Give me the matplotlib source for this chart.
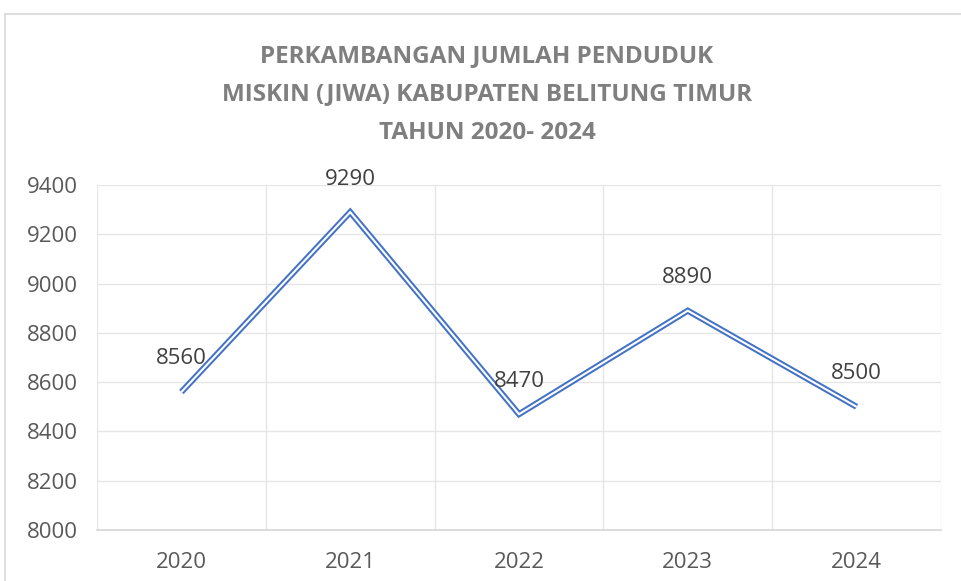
"""
Perkembangan jumlah penduduk miskin Kabupaten Belitung Timur, 2020-2024
"""

import matplotlib.pyplot as plt
from matplotlib.patches import Rectangle

YEARS = ["2020", "2021", "2022", "2023", "2024"]
JIWA = [8560, 9290, 8470, 8890, 8500]
TITLE_LINES = [
    "PERKAMBANGAN JUMLAH PENDUDUK",
    "MISKIN (JIWA) KABUPATEN BELITUNG TIMUR",
    "TAHUN 2020- 2024",
]

BLUE = "#4472c4"
GRID = "#e6e6e6"
TEXT = "#595959"

plt.rcParams['font.family'] = ['Open Sans', 'DejaVu Sans']

fig = plt.figure(figsize=(9.61, 5.81), dpi=100)
fig.patches.append(Rectangle((5 / 961, -0.1), 1.2, 1 - 14 / 581 + 0.1,
                             transform=fig.transFigure, fill=False,
                             edgecolor="#d9d9d9", linewidth=1.2))

ax = fig.add_axes([97 / 961, 1 - 530 / 581, (941 - 97) / 961, (530 - 185) / 581])
x = list(range(len(YEARS)))

# double (compound) line: thick blue with a white core
ax.plot(x, JIWA, color=BLUE, linewidth=4.4, solid_joinstyle='miter',
        solid_capstyle='butt', zorder=3)
ax.plot(x, JIWA, color="white", linewidth=1.5, solid_joinstyle='miter',
        solid_capstyle='butt', zorder=4)

for xi, v in zip(x, JIWA):
    ax.annotate(f"{v}", (xi, v), xytext=(0, 33), textcoords='offset pixels',
                ha='center', va='center', fontsize=16, color="#404040", zorder=5)

ax.set_xlim(-0.5, len(YEARS) - 0.5)
ax.set_ylim(8000, 9400)
ax.set_yticks(range(8000, 9401, 200))
ax.set_xticks(x)
ax.set_xticklabels(YEARS)
ax.set_xticks([i - 0.5 for i in range(len(YEARS) + 1)], minor=True)

ax.grid(axis='y', which='major', color=GRID, linewidth=1)
ax.grid(axis='x', which='minor', color=GRID, linewidth=1)
ax.set_axisbelow(True)
for s in ["top", "right", "left"]:
    ax.spines[s].set_visible(False)
ax.spines["bottom"].set_color("#d9d9d9")
ax.spines["bottom"].set_linewidth(1.3)
ax.tick_params(which='both', length=0)
ax.tick_params(axis='y', labelsize=16, labelcolor=TEXT, pad=14)
ax.tick_params(axis='x', labelsize=16, labelcolor=TEXT, pad=16)

for i, line in enumerate(TITLE_LINES):
    fig.text(487 / 961, 1 - (56 + 38.5 * i) / 581, line, ha='center', va='center',
             fontsize=17.5, fontweight='bold', color="#7f7f7f")

plt.savefig('out.png', dpi=100)
plt.close()
